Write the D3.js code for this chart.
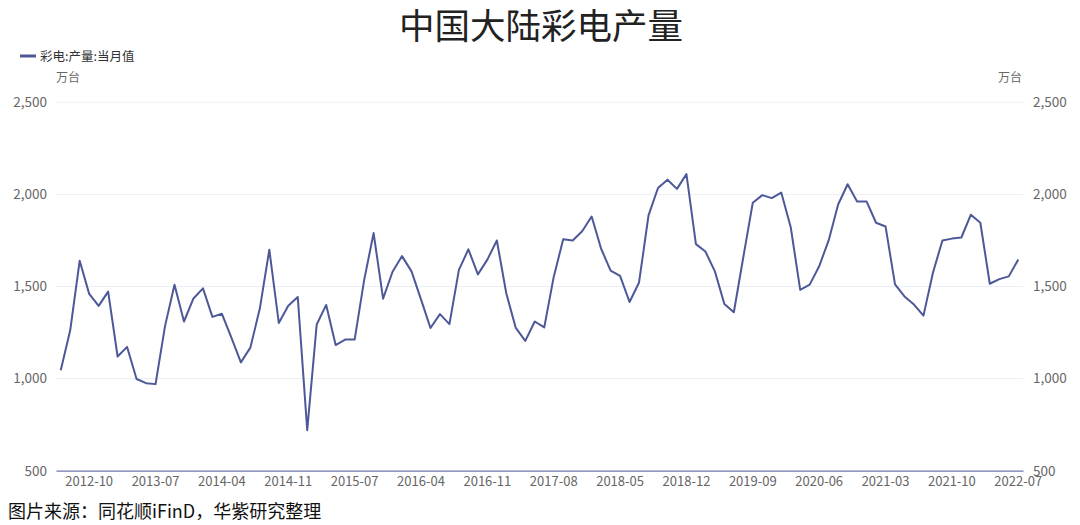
<!DOCTYPE html>
<html><head><meta charset="utf-8">
<script src="https://cdn.jsdelivr.net/npm/d3@7"></script>
<style>body{margin:0;background:#fff;}svg{display:block;font-family:"Noto Sans CJK SC","Noto Sans",sans-serif;}</style>
</head><body><svg id="c" width="1080" height="525"></svg>
<script>
// Categories: 2012-07 .. 2022-07, monthly (Jan/Feb combined months missing)
const years = [2012,2013,2014,2015,2016,2017,2018,2019,2020,2021,2022];
const monthsByYear = {
  2012:[7,8,9,10,11,12],
  2013:[3,4,5,6,7,8,9,10,11,12],
  2014:[3,4,5,6,7,8,9,10,11,12],
  2015:[2,3,4,5,6,7,8,9,10,11,12],
  2016:[3,4,5,6,7,8,9,10,11,12],
  2017:[3,4,5,6,7,8,9,10,11,12],
  2018:[3,4,5,6,7,8,9,10,11,12],
  2019:[3,4,5,6,7,8,9,10,11,12],
  2020:[3,4,5,6,7,8,9,10,11,12],
  2021:[3,4,5,6,7,8,9,10,11,12],
  2022:[3,4,5,6,7]
};
const categories = [];
years.forEach(y => monthsByYear[y].forEach(m => categories.push(y + "-" + String(m).padStart(2,"0"))));

const values = [
  1045,1262,1640,1460,1395,1472,1120,1172,998,975,
  970,1285,1510,1310,1435,1490,1335,1352,1222,1088,
  1168,1380,1700,1302,1395,1443,720,1294,1400,1182,
  1212,1212,1533,1790,1434,1580,1665,1582,1430,1275,
  1350,1296,1590,1702,1566,1646,1750,1462,1275,1205,
  1310,1278,1552,1756,1750,1800,1880,1705,1586,1558,
  1416,1522,1886,2035,2080,2030,2110,1730,1690,1582,
  1405,1360,1660,1955,1996,1980,2010,1822,1482,1510,
  1610,1750,1945,2055,1962,1962,1846,1826,1512,1446,
  1402,1342,1575,1750,1760,1766,1890,1846,1515,1540,
  1555,1646
];
const tickLabels = ["2012-10","2013-07","2014-04","2014-11","2015-07","2016-04","2016-11","2017-08","2018-05","2018-12","2019-09","2020-06","2021-03","2021-10","2022-07"];
const yTicks = [500,1000,1500,2000,2500];
const seriesName = "彩电:产量:当月值";
const unit = "万台";
const title = "中国大陆彩电产量";
const source = "图片来源：同花顺iFinD，华紫研究整理";

const svg = d3.select("#c");
const pL = 56, pR = 1023, pT = 102.3, pB = 470.7;
const x = d3.scaleBand().domain(categories).range([pL, pR]);
const y = d3.scaleLinear().domain([500, 2500]).range([pB, pT]);
const cx = c => x(c) + x.bandwidth()/2;

// title
svg.append("text").attr("x", 541).attr("y", 39).attr("text-anchor","middle")
  .attr("font-size", 35.5).attr("fill","#222").text(title);

// legend
svg.append("line").attr("x1",20).attr("x2",36).attr("y1",56).attr("y2",56)
  .attr("stroke","#4d5898").attr("stroke-width",3);
svg.append("text").attr("x",40).attr("y",60.5).attr("font-size",12.5).attr("fill","#333").text(seriesName);

// unit labels
svg.append("text").attr("x",56).attr("y",81.5).attr("font-size",12).attr("fill","#666").text(unit);
svg.append("text").attr("x",1022).attr("y",81.5).attr("text-anchor","end").attr("font-size",12).attr("fill","#666").text(unit);

// grid
svg.append("g").selectAll("line").data(yTicks.filter(d=>d>500)).join("line")
  .attr("x1",pL).attr("x2",pR).attr("y1",d=>y(d)).attr("y2",d=>y(d))
  .attr("stroke","#eceef7").attr("stroke-width",1);

// y axes
const fmt = d3.format(",");
const yl = svg.append("g").attr("transform",`translate(${pL},0)`)
  .call(d3.axisLeft(y).tickValues(yTicks).tickFormat(fmt).tickSize(0).tickPadding(9));
const yr = svg.append("g").attr("transform",`translate(${pR},0)`)
  .call(d3.axisRight(y).tickValues(yTicks).tickFormat(fmt).tickSize(0).tickPadding(10));
[yl,yr].forEach(g=>{ g.select(".domain").remove();
  g.selectAll("text").attr("font-size",13.5).attr("fill","#666").attr("font-family",'"Noto Sans CJK SC",sans-serif'); });

// x axis
const xa = svg.append("g").attr("transform",`translate(0,${pB})`)
  .call(d3.axisBottom(x).tickValues(tickLabels).tickSize(0).tickPadding(6.5));
xa.select(".domain").attr("stroke","#6f76ad").attr("stroke-width",1.2);
xa.selectAll("text").attr("font-size",13).attr("fill","#666").attr("font-family",'"Noto Sans CJK SC",sans-serif');

// line
const line = d3.line().x((d,i)=>cx(categories[i])).y(d=>y(d));
svg.append("path").datum(values).attr("d",line).attr("fill","none")
  .attr("stroke","#4d5898").attr("stroke-width",2).attr("stroke-linejoin","round");

// source
svg.append("text").attr("x",8).attr("y",517.5).attr("font-size",18).attr("fill","#111").text(source);
</script></body></html>
